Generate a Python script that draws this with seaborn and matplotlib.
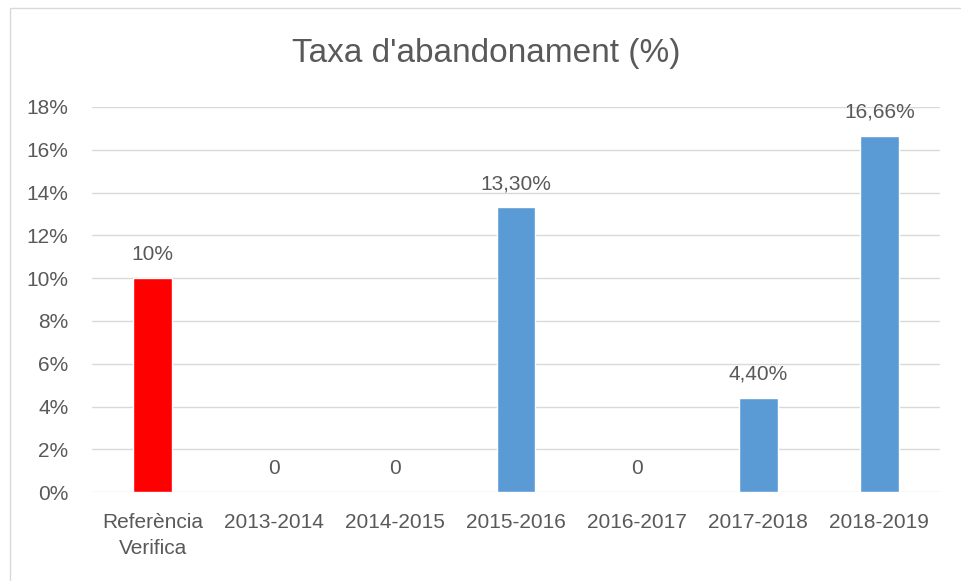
import matplotlib
matplotlib.use("Agg")
import matplotlib.pyplot as plt
from matplotlib.patches import Rectangle
from matplotlib.ticker import FuncFormatter
import seaborn as sns

categories = ["Referència\nVerifica", "2013-2014", "2014-2015", "2015-2016",
              "2016-2017", "2017-2018", "2018-2019"]
values = [10.0, 0.0, 0.0, 13.30, 0.0, 4.40, 16.66]
labels = ["10%", "0", "0", "13,30%", "0", "4,40%", "16,66%"]
colors = ["#FF0000", "#5B9BD5", "#5B9BD5", "#5B9BD5", "#5B9BD5", "#5B9BD5", "#5B9BD5"]

sns.set_style("white")
plt.rcParams['font.family'] = ['Liberation Sans', 'DejaVu Sans']
txt = "#595959"

fig = plt.figure(figsize=(9.62, 5.81), dpi=100)
ax = fig.add_axes([0.0956, 0.153, 0.8814, 0.663])

sns.barplot(x=categories, y=values, hue=categories, palette=colors,
            legend=False, width=0.32, ax=ax, saturation=1)

ax.set_ylim(0, 18)
ax.set_yticks(range(0, 19, 2))
ax.yaxis.set_major_formatter(FuncFormatter(lambda v, p: f"{int(v)}%"))
ax.set_xlim(-0.5, len(categories) - 0.5)
ax.grid(axis="y", color="#D9D9D9", linewidth=1)
ax.set_axisbelow(True)
for s in ax.spines.values():
    s.set_visible(False)
ax.tick_params(axis="both", length=0, colors=txt, labelsize=15)
ax.tick_params(axis="x", pad=15)
ax.tick_params(axis="y", pad=17)
for t in ax.get_xticklabels():
    t.set_linespacing(1.45)
ax.set_xlabel("")
ax.set_ylabel("")

for i, (v, lab) in enumerate(zip(values, labels)):
    ax.annotate(lab, (i, v), xytext=(0, 17), textcoords="offset points",
                ha="center", va="center", fontsize=15, color=txt)

fig.text(0.505, 0.908, "Taxa d'abandonament (%)", ha="center", va="center",
         fontsize=24, color=txt)

fig.patches.append(Rectangle((10 / 962, -0.05), 1.0, 0.05 + 1 - 8 / 581,
                             transform=fig.transFigure, fill=False,
                             edgecolor="#D9D9D9", linewidth=1))

fig.savefig("out.png", dpi=100)
